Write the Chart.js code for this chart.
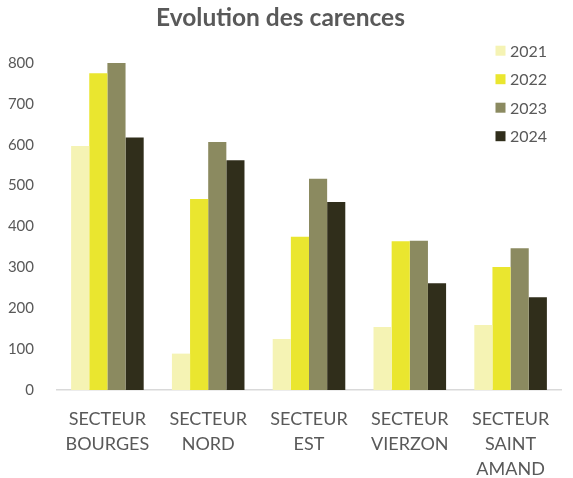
<!DOCTYPE html>
<html>
<head>
<meta charset="utf-8">
<script src="https://cdn.jsdelivr.net/npm/chart.js@4/dist/chart.umd.min.js"></script>
<style>
  html, body { margin: 0; padding: 0; background: #ffffff; }
  #wrap { width: 573px; height: 478px; position: relative; }
</style>
</head>
<body>
<div id="wrap"><canvas id="c"></canvas></div>
<script>
const categories = [
  ['SECTEUR', 'BOURGES'],
  ['SECTEUR', 'NORD'],
  ['SECTEUR', 'EST'],
  ['SECTEUR', 'VIERZON'],
  ['SECTEUR', 'SAINT', 'AMAND']
];
const seriesNames = ['2021', '2022', '2023', '2024'];
const values2021 = [597, 89, 125, 154, 159];
const values2022 = [775, 467, 375, 364, 301];
const values2023 = [800, 607, 517, 365, 347];
const values2024 = [618, 562, 460, 261, 227];
const seriesColors = ['#F5F3B4', '#EAE62F', '#8B8A60', '#302E1B'];
const yTicks = [0, 100, 200, 300, 400, 500, 600, 700, 800];

const allValues = [values2021, values2022, values2023, values2024];
const textColor = '#595959';
const FONT = 'Lato';

const legendPlugin = {
  id: 'overlayLegend',
  afterDraw(chart) {
    const ctx = chart.ctx;
    ctx.save();
    ctx.font = '16px ' + FONT;
    ctx.textBaseline = 'middle';
    ctx.textAlign = 'left';
    chart.data.datasets.forEach((ds, i) => {
      const cy = 50.7 + i * 28.5;
      ctx.fillStyle = ds.backgroundColor;
      ctx.fillRect(495.5, cy - 5, 10, 10);
      ctx.fillStyle = textColor;
      ctx.fillText(ds.label, 510, cy + 1);
    });
    ctx.restore();
  }
};

new Chart(document.getElementById('c'), {
  type: 'bar',
  data: {
    labels: categories,
    datasets: seriesNames.map((name, i) => ({
      label: name,
      data: allValues[i],
      backgroundColor: seriesColors[i],
      borderWidth: 0,
      categoryPercentage: 0.72,
      barPercentage: 1.0
    }))
  },
  options: {
    responsive: true,
    maintainAspectRatio: false,
    animation: false,
    layout: { padding: { left: 0, right: 12, top: 0, bottom: 0 } },
    plugins: {
      legend: { display: false },
      tooltip: { enabled: false },
      title: {
        display: true,
        text: 'Evolution des carences',
        color: textColor,
        font: { family: FONT, size: 24.5, weight: 'bold', lineHeight: 1.2 },
        padding: { top: 3.5, bottom: 30.1 }
      }
    },
    scales: {
      x: {
        grid: { display: false },
        border: { display: true, color: '#D9D9D9', width: 1.5 },
        ticks: {
          color: textColor,
          font: { family: FONT, size: 18, lineHeight: '25px' },
          padding: 9,
          maxRotation: 0,
          autoSkip: false
        },
        afterFit(scale) { scale.height = 88; }
      },
      y: {
        min: 0,
        max: 800,
        grid: { display: false },
        border: { display: false },
        afterBuildTicks(scale) { scale.ticks = yTicks.map(v => ({ value: v })); },
        ticks: {
          color: textColor,
          font: { family: FONT, size: 15 },
          padding: 15
        },
        afterFit(scale) { scale.width = 57; }
      }
    }
  },
  plugins: [legendPlugin]
});
</script>
</body>
</html>
